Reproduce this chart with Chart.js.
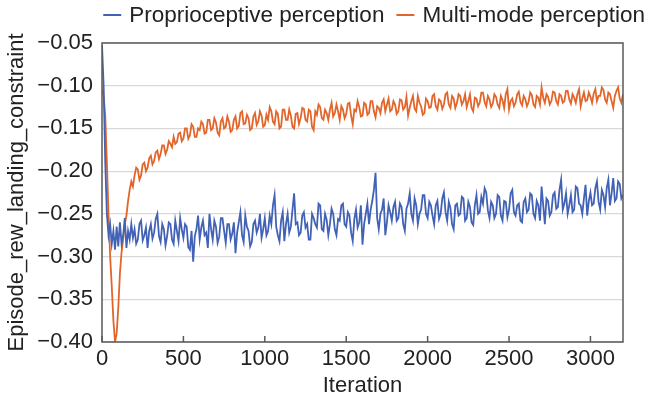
<!DOCTYPE html>
<html>
<head>
<meta charset="utf-8">
<script src="https://cdn.jsdelivr.net/npm/chart.js@4.4.1/dist/chart.umd.min.js"></script>
<style>
  html, body { margin: 0; padding: 0; background: #ffffff; }
  #wrap { width: 651px; height: 399px; position: relative; }
</style>
</head>
<body>
<div id="wrap"><canvas id="c" width="651" height="399"></canvas></div>
<script>
// ---- data (one value every 10 iterations, 0 .. 3200) ----
const iterationStep = 10;

const proprioceptive = [
  -0.052,-0.100,-0.190,-0.250,-0.275,-0.262,-0.285,-0.270,-0.292,-0.265,-0.288,-0.260,-0.285,-0.275,-0.255,-0.290,-0.270,-0.280,-0.262,-0.278,
  -0.268,-0.285,-0.280,-0.262,-0.258,-0.281,-0.275,-0.266,-0.290,-0.270,-0.262,-0.279,-0.272,-0.256,-0.250,-0.276,-0.283,-0.262,-0.268,-0.287,
  -0.276,-0.260,-0.262,-0.280,-0.285,-0.258,-0.270,-0.282,-0.255,-0.268,-0.278,-0.262,-0.265,-0.289,-0.292,-0.270,-0.306,-0.276,-0.268,-0.252,
  -0.280,-0.266,-0.258,-0.275,-0.272,-0.290,-0.250,-0.268,-0.280,-0.258,-0.265,-0.284,-0.277,-0.255,-0.255,-0.270,-0.284,-0.262,-0.262,-0.280,
  -0.273,-0.260,-0.296,-0.272,-0.260,-0.248,-0.275,-0.283,-0.252,-0.265,-0.270,-0.288,-0.283,-0.262,-0.258,-0.272,-0.266,-0.250,-0.278,-0.268,
  -0.255,-0.275,-0.270,-0.252,-0.262,-0.240,-0.228,-0.265,-0.275,-0.282,-0.258,-0.248,-0.282,-0.262,-0.250,-0.272,-0.265,-0.245,-0.226,-0.262,
  -0.260,-0.275,-0.272,-0.252,-0.248,-0.266,-0.262,-0.280,-0.280,-0.250,-0.255,-0.262,-0.266,-0.238,-0.240,-0.268,-0.270,-0.250,-0.257,-0.275,
  -0.262,-0.244,-0.250,-0.268,-0.275,-0.256,-0.258,-0.240,-0.238,-0.262,-0.265,-0.248,-0.252,-0.272,-0.282,-0.256,-0.245,-0.266,-0.260,-0.240,
  -0.286,-0.262,-0.250,-0.238,-0.262,-0.245,-0.235,-0.222,-0.202,-0.255,-0.268,-0.250,-0.245,-0.232,-0.275,-0.260,-0.240,-0.248,-0.258,-0.242,
  -0.236,-0.258,-0.255,-0.238,-0.242,-0.262,-0.270,-0.244,-0.238,-0.226,-0.250,-0.258,-0.232,-0.240,-0.262,-0.250,-0.245,-0.228,-0.228,-0.250,
  -0.255,-0.236,-0.240,-0.252,-0.262,-0.240,-0.235,-0.256,-0.250,-0.232,-0.225,-0.248,-0.258,-0.236,-0.243,-0.262,-0.268,-0.240,-0.238,-0.252,
  -0.250,-0.230,-0.232,-0.258,-0.255,-0.236,-0.242,-0.260,-0.263,-0.240,-0.228,-0.250,-0.248,-0.230,-0.238,-0.220,-0.225,-0.246,-0.255,-0.236,
  -0.240,-0.255,-0.250,-0.228,-0.230,-0.252,-0.258,-0.235,-0.236,-0.254,-0.245,-0.226,-0.222,-0.248,-0.252,-0.240,-0.238,-0.258,-0.260,-0.236,
  -0.232,-0.248,-0.245,-0.226,-0.228,-0.250,-0.255,-0.235,-0.240,-0.258,-0.218,-0.240,-0.262,-0.232,-0.235,-0.252,-0.248,-0.228,-0.225,-0.244,
  -0.242,-0.222,-0.210,-0.245,-0.238,-0.226,-0.250,-0.240,-0.228,-0.248,-0.245,-0.218,-0.220,-0.238,-0.240,-0.250,-0.232,-0.216,-0.252,-0.235,
  -0.225,-0.240,-0.238,-0.220,-0.212,-0.236,-0.245,-0.222,-0.228,-0.242,-0.220,-0.210,-0.240,-0.226,-0.208,-0.235,-0.232,-0.212,-0.215,-0.232,
  -0.228
];

const multimode = [
  -0.105,-0.112,-0.135,-0.190,-0.250,-0.300,-0.335,-0.375,-0.400,-0.390,-0.360,-0.320,-0.295,-0.280,-0.262,-0.252,-0.235,-0.222,-0.212,-0.218,
  -0.205,-0.196,-0.198,-0.210,-0.205,-0.192,-0.190,-0.200,-0.196,-0.185,-0.182,-0.192,-0.188,-0.178,-0.176,-0.186,-0.180,-0.170,-0.170,-0.180,
  -0.175,-0.165,-0.168,-0.172,-0.160,-0.168,-0.166,-0.156,-0.155,-0.165,-0.162,-0.150,-0.150,-0.162,-0.158,-0.145,-0.148,-0.160,-0.160,-0.150,
  -0.152,-0.142,-0.145,-0.156,-0.155,-0.140,-0.140,-0.152,-0.150,-0.138,-0.143,-0.155,-0.158,-0.142,-0.138,-0.150,-0.148,-0.136,-0.142,-0.154,
  -0.152,-0.140,-0.136,-0.150,-0.147,-0.132,-0.130,-0.145,-0.144,-0.134,-0.138,-0.152,-0.150,-0.136,-0.132,-0.146,-0.142,-0.130,-0.135,-0.148,
  -0.146,-0.134,-0.140,-0.125,-0.130,-0.142,-0.145,-0.130,-0.133,-0.150,-0.148,-0.128,-0.128,-0.140,-0.140,-0.128,-0.135,-0.148,-0.150,-0.133,
  -0.132,-0.145,-0.138,-0.126,-0.127,-0.140,-0.142,-0.128,-0.130,-0.148,-0.152,-0.130,-0.134,-0.122,-0.125,-0.138,-0.140,-0.128,-0.132,-0.140,
  -0.128,-0.120,-0.136,-0.132,-0.122,-0.130,-0.140,-0.124,-0.128,-0.138,-0.133,-0.121,-0.120,-0.135,-0.145,-0.128,-0.130,-0.118,-0.125,-0.136,
  -0.135,-0.120,-0.122,-0.134,-0.132,-0.118,-0.118,-0.130,-0.137,-0.124,-0.126,-0.132,-0.120,-0.116,-0.130,-0.122,-0.115,-0.130,-0.128,-0.118,
  -0.122,-0.133,-0.130,-0.116,-0.117,-0.128,-0.125,-0.113,-0.135,-0.126,-0.118,-0.112,-0.127,-0.130,-0.112,-0.120,-0.124,-0.134,-0.132,-0.115,
  -0.118,-0.126,-0.125,-0.112,-0.110,-0.124,-0.128,-0.116,-0.118,-0.127,-0.122,-0.110,-0.108,-0.122,-0.126,-0.112,-0.115,-0.126,-0.120,-0.110,
  -0.112,-0.122,-0.118,-0.110,-0.125,-0.118,-0.110,-0.126,-0.130,-0.114,-0.115,-0.124,-0.120,-0.108,-0.108,-0.119,-0.124,-0.112,-0.116,-0.125,
  -0.121,-0.110,-0.113,-0.122,-0.126,-0.112,-0.117,-0.126,-0.110,-0.104,-0.128,-0.118,-0.115,-0.124,-0.120,-0.110,-0.107,-0.119,-0.123,-0.112,
  -0.116,-0.124,-0.119,-0.108,-0.111,-0.122,-0.125,-0.112,-0.114,-0.122,-0.102,-0.114,-0.120,-0.110,-0.113,-0.122,-0.118,-0.107,-0.108,-0.118,
  -0.122,-0.110,-0.112,-0.120,-0.118,-0.106,-0.106,-0.116,-0.121,-0.110,-0.114,-0.120,-0.110,-0.104,-0.124,-0.115,-0.108,-0.118,-0.117,-0.108,
  -0.113,-0.120,-0.109,-0.104,-0.118,-0.112,-0.112,-0.102,-0.105,-0.116,-0.120,-0.108,-0.110,-0.118,-0.126,-0.112,-0.106,-0.102,-0.115,-0.120,
  -0.110
];

const seriesNames = ['Proprioceptive perception', 'Multi-mode perception'];
const xTitle = 'Iteration';
const yTitle = 'Episode_rew_landing_constraint';
const xTickValues = [0, 500, 1000, 1500, 2000, 2500, 3000];
const yTickValues = [-0.40, -0.35, -0.30, -0.25, -0.20, -0.15, -0.10, -0.05];

// ---- chart ----
const FONT = 'Liberation Sans, Arial, sans-serif';
const TEXT = '#222222';
const BLUE = '#4262b5';
const ORANGE = '#e2662b';
const AXIS = '#595959';

function pts(ys) { return ys.map((y, i) => ({ x: i * iterationStep, y: y })); }

const frame = {
  id: 'frame',
  afterDatasetsDraw(chart) {
    const { ctx, chartArea: a, scales } = chart;
    ctx.save();
    ctx.strokeStyle = AXIS;
    ctx.lineWidth = 1.5;
    const xs = scales.x;
    xs.ticks.forEach((t, i) => {
      const px = xs.getPixelForTick(i);
      ctx.beginPath();
      ctx.moveTo(px, a.bottom);
      ctx.lineTo(px, a.bottom - 6);
      ctx.stroke();
    });
    ctx.strokeRect(a.left, a.top, a.right - a.left, a.bottom - a.top);
    ctx.restore();
  }
};

// legend drawn from the datasets' own labels and colours, right-aligned
const lineLegend = {
  id: 'lineLegend',
  afterDraw(chart) {
    const ctx = chart.ctx;
    const size = 22.5, lineLen = 18, gap = 8, itemGap = 12, right = 645, cy = 15;
    ctx.save();
    ctx.font = size + 'px ' + FONT;
    ctx.textBaseline = 'middle';
    ctx.textAlign = 'left';
    const items = chart.data.datasets.map(d => ({ text: d.label, color: d.borderColor, w: ctx.measureText(d.label).width }));
    let total = 0;
    items.forEach((it, i) => { total += lineLen + gap + it.w + (i ? itemGap : 0); });
    let x = right - total;
    items.forEach((it, i) => {
      if (i) x += itemGap;
      ctx.strokeStyle = it.color;
      ctx.lineWidth = 2;
      ctx.beginPath();
      ctx.moveTo(x, cy);
      ctx.lineTo(x + lineLen, cy);
      ctx.stroke();
      x += lineLen + gap;
      ctx.fillStyle = TEXT;
      ctx.fillText(it.text, x, cy + 1);
      x += it.w;
    });
    ctx.restore();
  }
};

new Chart(document.getElementById('c'), {
  type: 'line',
  data: {
    datasets: [
      { label: seriesNames[0], data: pts(proprioceptive), borderColor: BLUE, backgroundColor: BLUE, borderWidth: 1.8, pointRadius: 0, tension: 0 },
      { label: seriesNames[1], data: pts(multimode), borderColor: ORANGE, backgroundColor: ORANGE, borderWidth: 1.8, pointRadius: 0, tension: 0 }
    ]
  },
  options: {
    responsive: false,
    animation: false,
    devicePixelRatio: 1,
    layout: { padding: { left: 0, right: 0, top: 43, bottom: 0 } },
    plugins: {
      legend: { display: false },
      tooltip: { enabled: false }
    },
    scales: {
      x: {
        type: 'linear',
        min: 0, max: 3200,
        afterBuildTicks(s) { s.ticks = xTickValues.map(v => ({ value: v })); },
        grid: { display: false, drawTicks: false },
        border: { display: false },
        ticks: { padding: 4, color: TEXT, font: { family: FONT, size: 22 }, maxRotation: 0, callback: v => String(v) },
        title: { display: true, text: xTitle, color: TEXT, font: { family: FONT, size: 22 }, padding: { top: 0, bottom: 0 } },
        afterFit(s) { s.height = 57; }
      },
      y: {
        type: 'linear',
        min: -0.40, max: -0.05,
        afterBuildTicks(s) { s.ticks = yTickValues.map(v => ({ value: v })); },
        grid: { color: '#d9d9d9', lineWidth: 1.2, drawTicks: false },
        border: { display: false },
        ticks: {
          padding: 9, color: TEXT, font: { family: FONT, size: 22 },
          callback: v => v.toFixed(2).replace('-', '\u2212')
        },
        title: { display: true, text: yTitle, color: TEXT, font: { family: FONT, size: 22 }, padding: { top: 4, bottom: 0 } },
        afterFit(s) { s.width = 102; }
      },
      yR: {
        position: 'right',
        display: true,
        grid: { display: false, drawTicks: false },
        border: { display: false },
        ticks: { display: false },
        afterFit(s) { s.width = 28; }
      }
    }
  },
  plugins: [frame, lineLegend]
});
</script>
</body>
</html>
